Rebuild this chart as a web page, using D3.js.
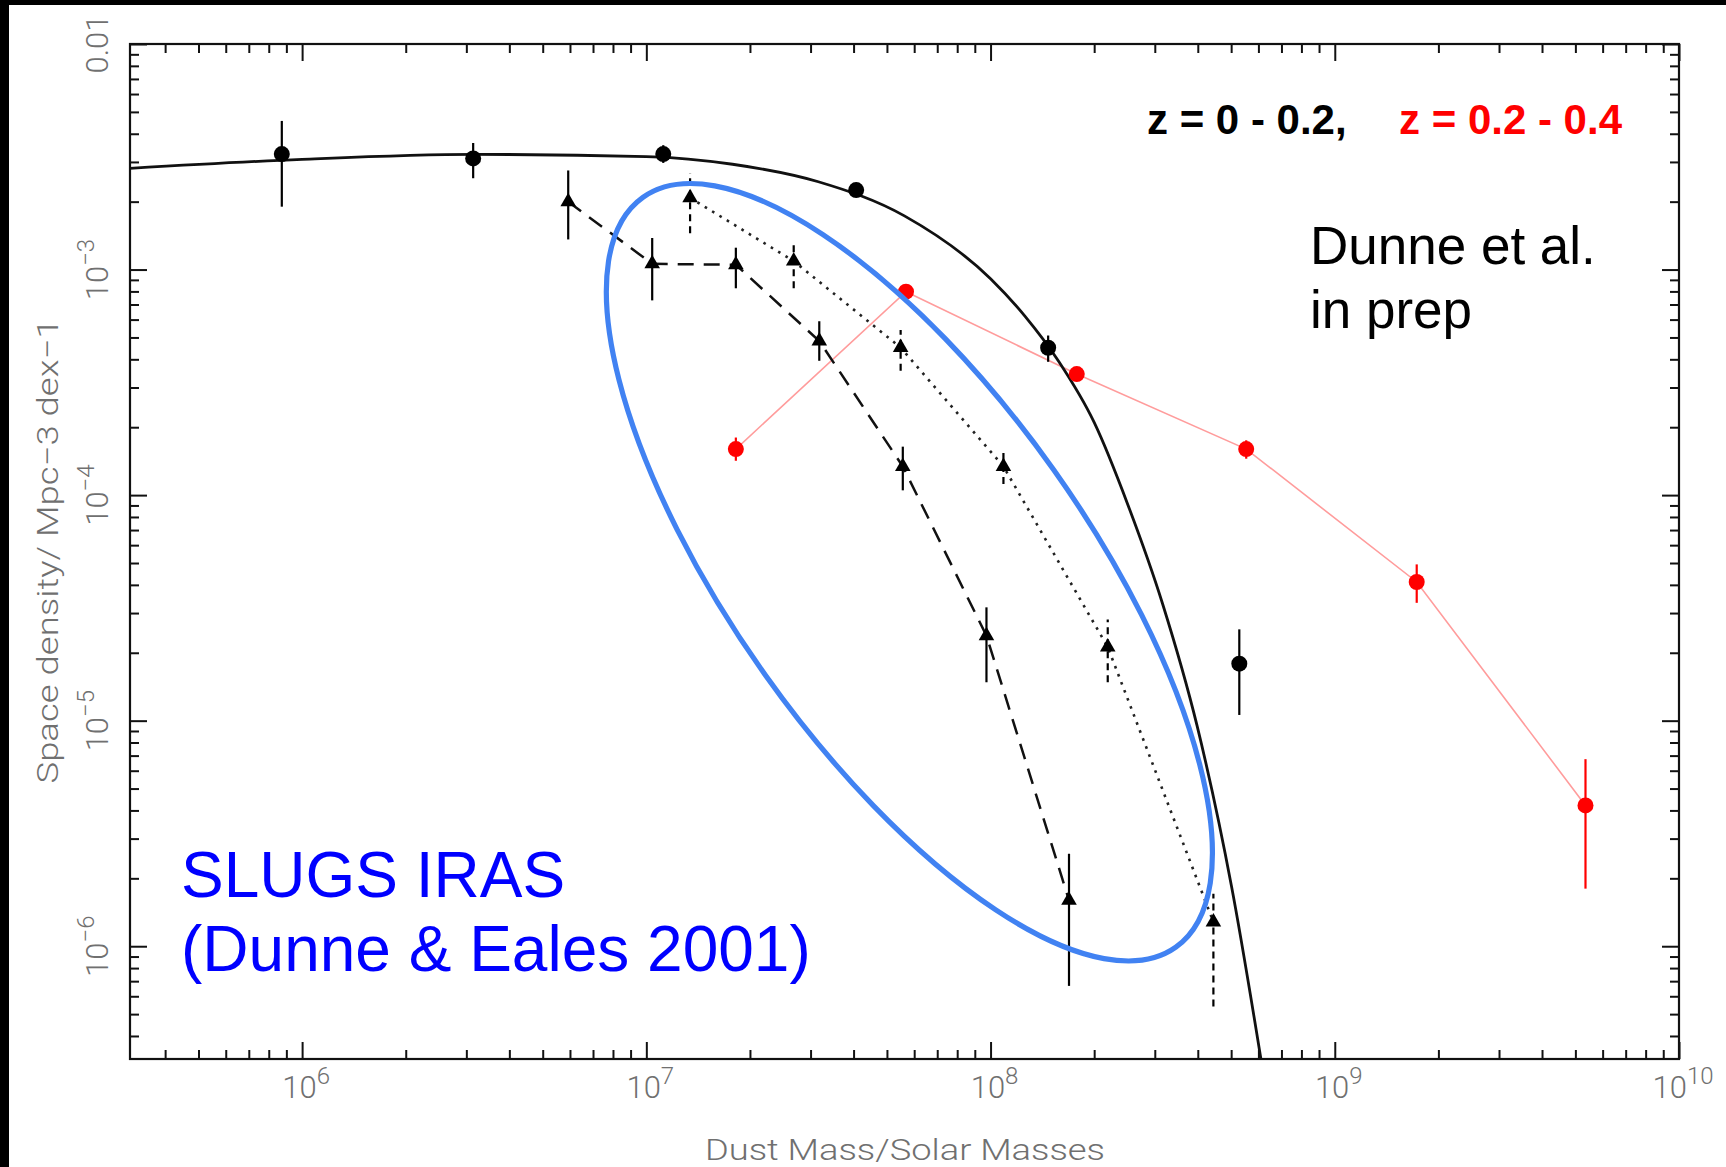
<!DOCTYPE html>
<html>
<head>
<meta charset="utf-8">
<script src="https://cdn.jsdelivr.net/npm/d3@7"></script>
<style>
  body { margin: 0; background: #fff; }
  svg { display: block; }
</style>
</head>
<body>
<svg id="chart" width="1726" height="1167"></svg>
<script>
// ---- Dust mass function data (mass in solar masses, space density in Mpc^-3 dex^-1) ----

// z = 0 - 0.2 sample (filled circles)
const lowzMass = [8.73e5, 3.14e6, 1.12e7, 4.07e7, 1.47e8, 5.28e8];
const lowzPhi  = [3.25e-3, 3.11e-3, 3.25e-3, 2.25e-3, 4.50e-4, 1.79e-5];
const lowzLo   = [1.90e-3, 2.54e-3, 2.97e-3, 2.12e-3, 3.90e-4, 1.06e-5];
const lowzHi   = [4.56e-3, 3.64e-3, 3.56e-3, 2.38e-3, 5.10e-4, 2.54e-5];

// Schechter fit through the z = 0 - 0.2 points
const fitMass = [3.16e5, 1e6, 3.16e6, 1e7, 1.78e7, 3.16e7, 5.62e7, 1e8, 1.26e8, 1.58e8, 2e8, 2.51e8, 3.16e8, 3.98e8, 5.01e8, 6.31e8];
const fitPhi  = [2.81e-3, 3.08e-3, 3.24e-3, 3.17e-3, 2.93e-3, 2.45e-3, 1.73e-3, 9.1e-4, 6.2e-4, 3.9e-4, 2.1e-4, 9.0e-5, 3.3e-5, 9.5e-6, 1.85e-6, 2.3e-7];

// z = 0.2 - 0.4 sample (red circles)
const highzMass = [1.82e7, 5.68e7, 1.78e8, 5.53e8, 1.73e9, 5.35e9];
const highzPhi  = [1.60e-4, 7.98e-4, 3.44e-4, 1.60e-4, 4.12e-5, 4.21e-6];
const highzLo   = [1.42e-4, 7.40e-4, 3.20e-4, 1.45e-4, 3.33e-5, 1.80e-6];
const highzHi   = [1.80e-4, 8.60e-4, 3.70e-4, 1.75e-4, 4.93e-5, 6.75e-6];

// SLUGS / IRAS (dashed line, solid error bars)
const slugsMass = [5.93e6, 1.04e7, 1.82e7, 3.18e7, 5.56e7, 9.73e7, 1.69e8];
const slugsPhi  = [2.00e-3, 1.06e-3, 1.05e-3, 4.82e-4, 1.34e-4, 2.38e-5, 1.60e-6];
const slugsLo   = [1.36e-3, 7.30e-4, 8.26e-4, 3.94e-4, 1.05e-4, 1.48e-5, 6.67e-7];
const slugsHi   = [2.75e-3, 1.38e-3, 1.25e-3, 5.90e-4, 1.64e-4, 3.18e-5, 2.57e-6];

// SLUGS / IRAS second estimate (dotted line, dashed error bars)
const slugs2Mass = [1.34e7, 2.68e7, 5.48e7, 1.09e8, 2.19e8, 4.44e8];
const slugs2Phi  = [2.08e-3, 1.09e-3, 4.51e-4, 1.34e-4, 2.12e-5, 1.28e-6];
const slugs2Lo   = [1.45e-3, 8.26e-4, 3.56e-4, 1.12e-4, 1.48e-5, 5.40e-7];
const slugs2Hi   = [2.68e-3, 1.32e-3, 5.40e-4, 1.57e-4, 2.81e-5, 1.71e-6];

// Axis ticks and labels
const xTickValues = [1e6, 1e7, 1e8, 1e9, 1e10];
const xTickExp    = ["6", "7", "8", "9", "10"];
const yTickValues = [1e-6, 1e-5, 1e-4, 1e-3, 1e-2];
const yTickBase   = ["10", "10", "10", "10", "0.01"];
const yTickExp    = ["\u22126", "\u22125", "\u22124", "\u22123", ""];

// Highlight ellipse around the SLUGS points (centre in data units)
const ringCentre = [5.81e7, 4.55e-5];

// ---- Layout ----
const W = 1726, H = 1167;
const plotL = 130, plotR = 1679, plotT = 44, plotB = 1059;

const svg = d3.select("#chart");
svg.append("rect").attr("width", W).attr("height", H).attr("fill", "#fff");
// black margins along the left and top edges
svg.append("rect").attr("x", 0).attr("y", 0).attr("width", 9).attr("height", H).attr("fill", "#000");
svg.append("rect").attr("x", 0).attr("y", 0).attr("width", W).attr("height", 5).attr("fill", "#000");

const x = d3.scaleLog().domain([Math.pow(10, 5.5), 1e10]).range([plotL, plotR]);
const y = d3.scaleLog().domain([Math.pow(10, -6.5), 1e-2]).range([plotB, plotT]);

svg.append("defs").append("clipPath").attr("id", "plotclip")
  .append("rect").attr("x", plotL).attr("y", plotT)
  .attr("width", plotR - plotL).attr("height", plotB - plotT);

// ---- Ticks (inward on all four sides) ----
const xAll = x.ticks();
const yAll = y.ticks();
const isMajor = v => Math.abs(Math.log10(v) - Math.round(Math.log10(v))) < 1e-6;
const MAJ = 17, MIN = 9;

function tickAxis(axisFn, scale, vals, transform) {
  const g = svg.append("g").attr("transform", transform)
    .call(axisFn(scale).tickValues(vals).tickSizeOuter(0).tickFormat(""));
  g.select(".domain").remove();
  g.selectAll(".tick line").attr("stroke", "#111").attr("stroke-width", 2);
  return g;
}
const xMaj = xAll.filter(isMajor), xMin = xAll.filter(v => !isMajor(v));
const yMaj = yAll.filter(isMajor), yMin = yAll.filter(v => !isMajor(v));

tickAxis(s => d3.axisBottom(s).tickSize(-MAJ), x, xMaj, `translate(0,${plotB})`);
tickAxis(s => d3.axisBottom(s).tickSize(-MIN), x, xMin, `translate(0,${plotB})`);
tickAxis(s => d3.axisTop(s).tickSize(-MAJ), x, xMaj, `translate(0,${plotT})`);
tickAxis(s => d3.axisTop(s).tickSize(-MIN), x, xMin, `translate(0,${plotT})`);
tickAxis(s => d3.axisLeft(s).tickSize(-MAJ), y, yMaj, `translate(${plotL},0)`);
tickAxis(s => d3.axisLeft(s).tickSize(-MIN), y, yMin, `translate(${plotL},0)`);
tickAxis(s => d3.axisRight(s).tickSize(-MAJ), y, yMaj, `translate(${plotR},0)`);
tickAxis(s => d3.axisRight(s).tickSize(-MIN), y, yMin, `translate(${plotR},0)`);

// frame
svg.append("rect").attr("x", plotL).attr("y", plotT)
  .attr("width", plotR - plotL).attr("height", plotB - plotT)
  .attr("fill", "none").attr("stroke", "#111").attr("stroke-width", 2.2);

// ---- Tick labels ----
const labelFont = "Roboto, 'DejaVu Sans', sans-serif";
const labelFill = "#707070";

const xl = svg.append("g").selectAll("text").data(xTickValues).join("text")
  .attr("x", d => x(d) + 4).attr("y", 1098)
  .attr("text-anchor", "middle")
  .attr("font-family", labelFont).attr("font-weight", 300)
  .attr("font-size", 31).attr("fill", labelFill);
xl.append("tspan").text("10");
xl.append("tspan").attr("dy", -14).attr("font-size", 24).text((d, i) => xTickExp[i]);

const yl = svg.append("g").selectAll("text").data(yTickValues).join("text")
  .attr("transform", d => `translate(108,${y(d)}) rotate(-90)`)
  .attr("text-anchor", "middle")
  .attr("font-family", labelFont).attr("font-weight", 300)
  .attr("font-size", 31).attr("fill", labelFill);
yl.append("tspan").text((d, i) => yTickBase[i]);
yl.append("tspan").attr("dy", -14).attr("font-size", 24).text((d, i) => yTickExp[i]);

// axis titles
svg.append("text")
  .attr("x", 905).attr("y", 1160).attr("text-anchor", "middle")
  .attr("font-family", labelFont).attr("font-weight", 300)
  .attr("font-size", 30).attr("fill", labelFill)
  .attr("textLength", 400).attr("lengthAdjust", "spacingAndGlyphs")
  .text("Dust Mass/Solar Masses");

svg.append("text")
  .attr("transform", "translate(58,551) rotate(-90)")
  .attr("text-anchor", "middle")
  .attr("font-family", labelFont).attr("font-weight", 300)
  .attr("font-size", 30).attr("fill", labelFill)
  .attr("textLength", 465).attr("lengthAdjust", "spacingAndGlyphs")
  .text("Space density/ Mpc\u22123 dex\u22121");

// ---- Plot contents ----
const plot = svg.append("g").attr("clip-path", "url(#plotclip)");

const line = d3.line().x(d => x(d[0])).y(d => y(d[1]));

// red z = 0.2 - 0.4 connecting line
plot.append("path")
  .attr("d", line(d3.zip(highzMass, highzPhi)))
  .attr("fill", "none").attr("stroke", "#ff9c9c").attr("stroke-width", 1.6);

// Schechter fit
plot.append("path")
  .attr("d", line.curve(d3.curveMonotoneX)(d3.zip(fitMass, fitPhi)))
  .attr("fill", "none").attr("stroke", "#111").attr("stroke-width", 2.8);
line.curve(d3.curveLinear);

// SLUGS dashed line
plot.append("path")
  .attr("d", line(d3.zip(slugsMass, slugsPhi)))
  .attr("fill", "none").attr("stroke", "#111").attr("stroke-width", 2.5)
  .attr("stroke-dasharray", "16 10");

// SLUGS dotted line
plot.append("path")
  .attr("d", line(d3.zip(slugs2Mass, slugs2Phi)))
  .attr("fill", "none").attr("stroke", "#222").attr("stroke-width", 2.6)
  .attr("stroke-dasharray", "2.6 6");

// error bars
function errorBars(mass, lo, hi, colour, dash) {
  plot.append("g").selectAll("line").data(mass).join("line")
    .attr("x1", d => x(d)).attr("x2", d => x(d))
    .attr("y1", (d, i) => y(lo[i])).attr("y2", (d, i) => y(hi[i]))
    .attr("stroke", colour).attr("stroke-width", 2.2)
    .attr("stroke-dasharray", dash);
}
errorBars(lowzMass, lowzLo, lowzHi, "#000", null);
errorBars(highzMass, highzLo, highzHi, "#f00", null);
errorBars(slugsMass, slugsLo, slugsHi, "#000", null);
errorBars(slugs2Mass, slugs2Lo, slugs2Hi, "#000", "7 5");

// markers
plot.append("g").selectAll("circle").data(d3.zip(lowzMass, lowzPhi)).join("circle")
  .attr("cx", d => x(d[0])).attr("cy", d => y(d[1])).attr("r", 8).attr("fill", "#000");
plot.append("g").selectAll("circle").data(d3.zip(highzMass, highzPhi)).join("circle")
  .attr("cx", d => x(d[0])).attr("cy", d => y(d[1])).attr("r", 8).attr("fill", "#f00");

const tri = d3.symbol().type(d3.symbolTriangle).size(105);
plot.append("g").selectAll("path").data(d3.zip(slugsMass, slugsPhi)).join("path")
  .attr("transform", d => `translate(${x(d[0])},${y(d[1])})`)
  .attr("d", tri).attr("fill", "#000");
plot.append("g").selectAll("path").data(d3.zip(slugs2Mass, slugs2Phi)).join("path")
  .attr("transform", d => `translate(${x(d[0])},${y(d[1])})`)
  .attr("d", tri).attr("fill", "#000");

// highlight ellipse
svg.append("ellipse")
  .attr("transform", `translate(${x(ringCentre[0])},${y(ringCentre[1])}) rotate(54.6)`)
  .attr("rx", 460).attr("ry", 177)
  .attr("fill", "none").attr("stroke", "#4182f2").attr("stroke-width", 5.2);

// ---- Annotations ----
const sans = "'Liberation Sans', Arial, sans-serif";
svg.append("text").attr("x", 1147).attr("y", 134)
  .attr("font-family", sans).attr("font-weight", "bold").attr("font-size", 42)
  .attr("fill", "#000").text("z = 0 - 0.2,");
svg.append("text").attr("x", 1622).attr("y", 134).attr("text-anchor", "end")
  .attr("font-family", sans).attr("font-weight", "bold").attr("font-size", 42)
  .attr("fill", "#f00").text("z = 0.2 - 0.4");

svg.append("text").attr("x", 1310).attr("y", 264)
  .attr("font-family", sans).attr("font-size", 53).attr("fill", "#000").text("Dunne et al.");
svg.append("text").attr("x", 1310).attr("y", 328)
  .attr("font-family", sans).attr("font-size", 53).attr("fill", "#000").text("in prep");

svg.append("text").attr("x", 181).attr("y", 897)
  .attr("font-family", sans).attr("font-size", 64).attr("fill", "#0000ff").text("SLUGS IRAS");
svg.append("text").attr("x", 181).attr("y", 971)
  .attr("font-family", sans).attr("font-size", 64).attr("fill", "#0000ff").text("(Dunne & Eales 2001)");
</script>
</body>
</html>
